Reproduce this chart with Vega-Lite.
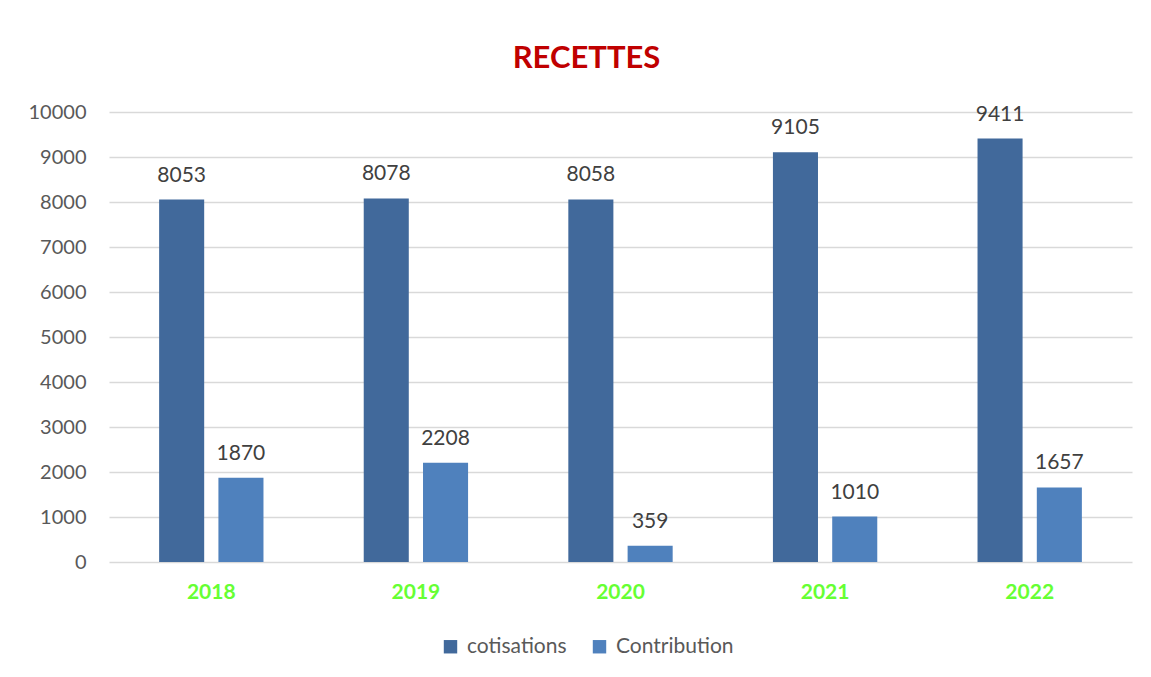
{
  "$schema": "https://vega.github.io/schema/vega-lite/v6.json",
  "width": 1023,
  "height": 450,
  "autosize": {"type": "none"},
  "padding": {"left": 109, "top": 112, "right": 19, "bottom": 115},
  "background": "white",
  "title": {
    "text": "RECETTES",
    "color": "#C00000",
    "fontSize": 31,
    "fontWeight": "bold",
    "font": "Lato",
    "anchor": "middle",
    "dx": -34,
    "offset": 27
  },
  "data": {
    "values": [
      {"year": "2018", "serie": "cotisations", "value": 8053},
      {"year": "2018", "serie": "Contribution", "value": 1870},
      {"year": "2019", "serie": "cotisations", "value": 8078},
      {"year": "2019", "serie": "Contribution", "value": 2208},
      {"year": "2020", "serie": "cotisations", "value": 8058},
      {"year": "2020", "serie": "Contribution", "value": 359},
      {"year": "2021", "serie": "cotisations", "value": 9105},
      {"year": "2021", "serie": "Contribution", "value": 1010},
      {"year": "2022", "serie": "cotisations", "value": 9411},
      {"year": "2022", "serie": "Contribution", "value": 1657}
    ]
  },
  "encoding": {
    "x": {
      "field": "year",
      "type": "nominal",
      "scale": {"paddingInner": 0.49, "paddingOuter": 0.245},
      "axis": {
        "title": null,
        "labelAngle": 0,
        "labelColor": "#66FF33",
        "labelFont": "Lato",
        "labelFontSize": 21,
        "labelFontWeight": "bold",
        "labelPadding": 19,
        "ticks": false,
        "domain": false
      }
    },
    "xOffset": {
      "field": "serie",
      "type": "nominal",
      "sort": ["cotisations", "Contribution"],
      "scale": {"paddingInner": 0.24, "paddingOuter": 0}
    },
    "y": {
      "field": "value",
      "type": "quantitative",
      "scale": {"domain": [0, 10000]},
      "axis": {
        "title": null,
        "values": [0, 1000, 2000, 3000, 4000, 5000, 6000, 7000, 8000, 9000, 10000],
        "format": "d",
        "labelColor": "#595959",
        "labelFont": "Lato",
        "labelFontSize": 20,
        "labelPadding": 23,
        "ticks": false,
        "domain": false,
        "grid": true,
        "gridColor": "#D9D9D9",
        "gridWidth": 1.3
      }
    }
  },
  "layer": [
    {
      "mark": {"type": "bar"},
      "encoding": {
        "color": {
          "field": "serie",
          "type": "nominal",
          "sort": ["cotisations", "Contribution"],
          "scale": {"domain": ["cotisations", "Contribution"], "range": ["#41699B", "#4F81BD"]},
          "legend": {
            "title": null,
            "orient": "none",
            "direction": "horizontal",
            "legendX": 331,
            "legendY": 524,
            "symbolType": "square",
            "symbolSize": 180,
            "symbolStrokeWidth": 0,
            "labelFont": "Lato",
            "labelFontSize": 21,
            "labelColor": "#595959",
            "columnPadding": 22,
            "labelOffset": 6
          }
        }
      }
    },
    {
      "mark": {"type": "text", "dy": -18, "baseline": "alphabetic", "font": "Lato", "fontSize": 21, "color": "#404040"},
      "encoding": {
        "text": {"field": "value", "type": "quantitative", "format": "d"}
      }
    }
  ],
  "config": {
    "view": {"stroke": null}
  }
}
